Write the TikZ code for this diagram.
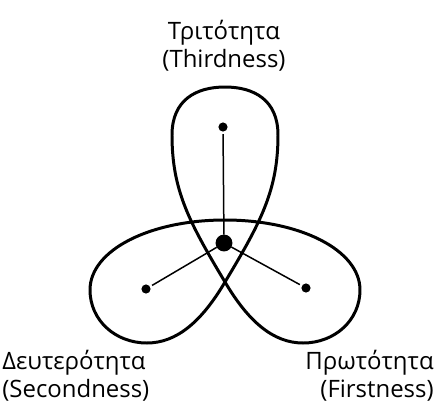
\documentclass[tikz,border=0pt]{standalone}
\usepackage{fontspec}
\setmainfont{Open Sans}
\tikzset{
  lobe/.style={line width=1.7pt,line join=round},
  spoke/.style={line width=0.85pt},
  dot/.style={circle,fill=black,inner sep=0pt,minimum size=5.2pt,outer sep=1.4pt},
  hub/.style={dot,minimum size=9.6pt,outer sep=0pt},
  caption/.style={font=\fontsize{13.6}{16}\selectfont,inner sep=0pt},
}
\begin{document}
\begin{tikzpicture}[x=0.568pt,y=-0.568pt]
  \useasboundingbox (0,0) rectangle (444,410);
  % the three-lobed outline, one closed curve through the lower crossing
  \coordinate (cross) at (225,282);
  \draw[lobe] (cross)
    .. controls (261,222) and (278,190) .. (278,135)
    .. controls (278,100) and (254,87) .. (225,87)
    .. controls (196,87) and (172,100) .. (172,135)
    .. controls (172,190) and (189,222) .. (cross)
    .. controls (248,321) and (273,343) .. (303,343)
    .. controls (335,343) and (360,320) .. (360,290)
    .. controls (360,250) and (300,220) .. (225,220)
    .. controls (150,220) and (90,250) .. (90,290)
    .. controls (90,320) and (115,343) .. (147,343)
    .. controls (177,343) and (202,321) .. (cross) -- cycle;
  % hub and the three categories
  \node[hub] (hub) at (224,243) {};
  \node[dot] (third) at (223,127) {};
  \node[dot] (second) at (146,289) {};
  \node[dot] (first) at (306,288) {};
  \draw[spoke] (hub) -- (third);
  \draw[spoke] (hub) -- (second);
  \draw[spoke] (hub) -- (first);
  % labels
  \node[caption,align=center] (thirdlbl) at (224,46) {Τριτότητα\\(Thirdness)};
  \node[caption,align=left,anchor=west] (secondlbl) at (2,376) {Δευτερότητα\\(Secondness)};
  \node[caption,align=right,anchor=east] (firstlbl) at (434,376) {Πρωτότητα\\(Firstness)};
\end{tikzpicture}
\end{document}
